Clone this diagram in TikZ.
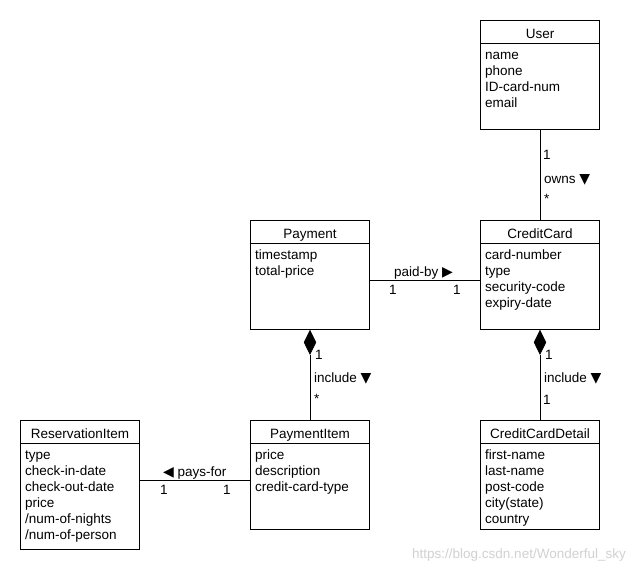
\documentclass[tikz,border=0pt]{standalone}
\usepackage{fontspec}
\setmainfont{Liberation Sans}
\newfontfamily\symfont{DejaVu Sans}
\usetikzlibrary{shapes.geometric}
\newcommand{\tri}[1]{{\symfont\fontsize{14}{16}\selectfont #1}}
\begin{document}
\begin{tikzpicture}[x=1pt,y=-1pt,
  cls/.style={draw, line width=1pt, anchor=north west, minimum width=119pt, inner sep=0pt},
  ttl/.style={anchor=base, inner sep=0pt, font=\fontsize{13.5}{16}\selectfont},
  attr/.style={anchor=base west, inner sep=0pt, font=\fontsize{13.5}{16}\selectfont},
  lbl/.style={anchor=base west, inner sep=0pt, font=\fontsize{13.5}{16}\selectfont},
  comp/.style={diamond, fill=black, draw, line width=0.6pt, inner sep=0pt, minimum width=12pt, minimum height=24pt, anchor=north},
  conn/.style={line width=1pt},
  wm/.style={anchor=base east, inner sep=0pt, text=black!18, font=\fontsize{13.5}{16}\selectfont}]
\fill[white] (0,0) rectangle (640,570);
\useasboundingbox (0,0) rectangle (640,570);

% classes
\node[cls, minimum height=109pt] (user) at (480,20) {};
\node[cls, minimum height=109pt] (pay) at (250,220) {};
\node[cls, minimum height=109pt] (cc) at (480,220) {};
\node[cls, minimum height=109pt] (pi) at (250,420) {};
\node[cls, minimum height=129pt] (res) at (20,420) {};
\node[cls, minimum height=109pt] (ccd) at (480,420) {};

% titles and separators
\foreach \n/\t in {user/User, pay/Payment, cc/CreditCard, pi/PaymentItem, res/ReservationItem, ccd/CreditCardDetail}{
  \node[ttl] (\n-title) at ([yshift=-18pt]\n.north) {\t};
  \draw[line width=1pt] ([yshift=-23pt]\n.north west) -- ([yshift=-23pt]\n.north east);
}

% attributes
\foreach \t [count=\i] in {name,phone,ID-card-num,email}
  \node[attr] (user-\i) at ([shift={(5,23+16*\i)}]user.north west) {\t};
\foreach \t [count=\i] in {timestamp,total-price}
  \node[attr] (pay-\i) at ([shift={(5,23+16*\i)}]pay.north west) {\t};
\foreach \t [count=\i] in {card-number,type,security-code,expiry-date}
  \node[attr] (cc-\i) at ([shift={(5,23+16*\i)}]cc.north west) {\t};
\foreach \t [count=\i] in {price,description,credit-card-type}
  \node[attr] (pi-\i) at ([shift={(5,23+16*\i)}]pi.north west) {\t};
\foreach \t [count=\i] in {type,check-in-date,check-out-date,price,/num-of-nights,/num-of-person}
  \node[attr] (res-\i) at ([shift={(5,23+16*\i)}]res.north west) {\t};
\foreach \t [count=\i] in {first-name,last-name,post-code,city(state),country}
  \node[attr] (ccd-\i) at ([shift={(5,23+16*\i)}]ccd.north west) {\t};

% connectors
\draw[conn] (user.south) -- (cc.north);
\node[comp] (d1) at (pay.south) {};
\draw[conn] (d1.south) -- (pi.north);
\node[comp] (d2) at (cc.south) {};
\draw[conn] (d2.south) -- (ccd.north);
\coordinate (pb) at (0,280);
\draw[conn] (pay.east |- pb) -- (cc.west |- pb);
\coordinate (pf) at (0,480);
\draw[conn] (res.east |- pf) -- (pi.west |- pf);

% labels
\node[lbl] (o1) at (543,159) {1};
\node[lbl] (o2) at (544,183) {owns \tri{▼}};
\node[lbl] (o3) at (544,203) {*};

\node[lbl] (i1) at (315,359) {1};
\node[lbl] (i2) at (314,382) {include \tri{▼}};
\node[lbl] (i3) at (314,403) {*};

\node[lbl] (j1) at (545,359) {1};
\node[lbl] (j2) at (544,382) {include \tri{▼}};
\node[lbl] (j3) at (543,404) {1};

\node[lbl] (p1) at (394,276) {paid-by \tri{▶}};
\node[lbl] (p2) at (389,294) {1};
\node[lbl] (p3) at (453,294) {1};

\node[lbl] (q1) at (163,476) {\tri{◀} pays-for};
\node[lbl] (q2) at (160,494) {1};
\node[lbl] (q3) at (223,494) {1};

\node[wm] (wmk) at (626,558) {https://blog.csdn.net/Wonderful\_sky};
\end{tikzpicture}
\end{document}
